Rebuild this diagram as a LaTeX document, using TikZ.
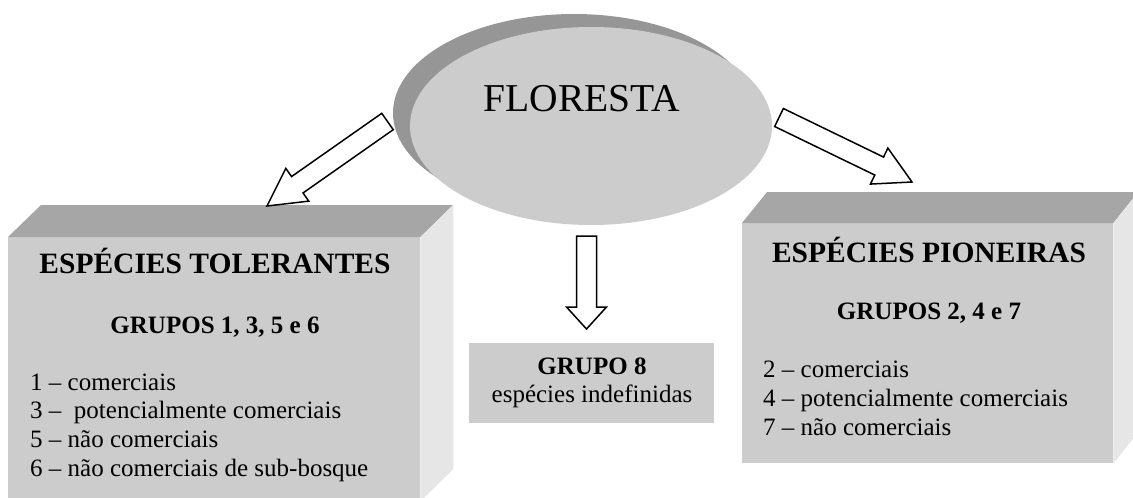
\documentclass[tikz,border=0pt]{standalone}
\usepackage{fontspec}
\setmainfont{Liberation Serif}
\usetikzlibrary{calc,shapes.geometric,positioning}
\definecolor{flogray}{RGB}{204,204,204}
\definecolor{shadowgray}{RGB}{150,150,150}
\definecolor{topgray}{RGB}{166,166,166}
\definecolor{sidegray}{RGB}{230,230,230}

\begin{document}
\begin{tikzpicture}[x=1pt,y=-1pt,
            face/.style={fill=flogray, draw=none, inner sep=0pt, anchor=north west},
            blob/.style={ellipse, draw=none, minimum width=362pt, minimum height=198pt},
            title/.style={font=\bfseries\fontsize{29.5}{34}\selectfont, anchor=base, inner sep=0pt},
            grp/.style={font=\bfseries\fontsize{25}{29}\selectfont, anchor=base, inner sep=0pt},
            item/.style={font=\fontsize{25}{29}\selectfont, anchor=base west, inner sep=0pt},
            blockarrow/.style={draw, fill=white, line width=1.5pt, line join=miter,
              to path={let \p1=(\tikztostart), \p2=(\tikztotarget),
                \n1={atan2(\y2-\y1,\x2-\x1)}, \n2={veclen(\x2-\x1,\y2-\y1)-#1} in
                ($(\p1)+(\n1+90:10pt)$) -- ($(\p1)+(\n1:\n2)+(\n1+90:10pt)$)
                -- ($(\p1)+(\n1:\n2)+(\n1+90:20pt)$) -- (\p2)
                -- ($(\p1)+(\n1:\n2)+(\n1-90:20pt)$) -- ($(\p1)+(\n1:\n2)+(\n1-90:10pt)$)
                -- ($(\p1)+(\n1-90:10pt)$) -- cycle}},
            blockarrow/.default=37
  ]
  \useasboundingbox (0,0) rectangle (1133,498);

  \node[blob, fill=shadowgray] (floshadow) at (574,113) {};
  \node[blob, fill=flogray] (floresta) at (591,126) {};
  \node[font=\fontsize{39.5}{45}\selectfont, anchor=base, inner sep=0pt] (flotitle) at (582,111) {FLORESTA};

  \node[face, minimum width=412pt, minimum height=264pt] (tol) at (8,237) {};
  \fill[topgray] (tol.north west) -- ++(33,-32) -- ++(412,0) -- (tol.north east) -- cycle;
  \fill[sidegray] (tol.north east) -- ++(33,-32) -- ++(0,264) -- (tol.south east) -- cycle;

  \node[face, minimum width=371pt, minimum height=240pt] (pio) at (742,223) {};
  \fill[topgray] (pio.north west) -- ++(25,-31) -- ++(371,0) -- (pio.north east) -- cycle;
  \fill[sidegray] (pio.north east) -- ++(25,-31) -- ++(0,240) -- (pio.south east) -- cycle;

  \node[face, minimum width=245pt, minimum height=80pt] (gr8) at (469,343) {};

  \node[title] (toltitle) at (215,273) {ESPÉCIES TOLERANTES};
  \node[grp] (tolgrp) at (215,333) {GRUPOS 1, 3, 5 e 6};
  \node[item] (tol1) at (30,390) {1 – comerciais};
  \node[item] (tol3) at (30,418.7) {3 –\ \ potencialmente comerciais};
  \node[item] (tol5) at (30,447.4) {5 – não comerciais};
  \node[item] (tol6) at (30,476) {6 – não comerciais de sub-bosque};

  \node[title] (piotitle) at (929,262) {ESPÉCIES PIONEIRAS};
  \node[grp] (piogrp) at (929,319) {GRUPOS 2, 4 e 7};
  \node[item] (pio2) at (763,377) {2 – comerciais};
  \node[item] (pio4) at (763,406) {4 – potencialmente comerciais};
  \node[item] (pio7) at (763,435) {7 – não comerciais};

  \node[grp] (gr8title) at (592,374) {GRUPO 8};
  \node[item, anchor=base] (gr8text) at (592,402) {espécies indefinidas};

  \coordinate (tailL) at (387.5,121.5);
  \coordinate (tipL) at (267,206);
  \coordinate (tailR) at (779,117.5);
  \coordinate (tipR) at (912,182);
  \coordinate (tailD) at (586.5,236);
  \coordinate (tipD) at (586.5,329);

  \draw[blockarrow] (tailL) to (tipL);
  \draw[blockarrow=36.5] (tailR) to (tipR);
  \draw[blockarrow=22] (tailD) to (tipD);

\end{tikzpicture}
\end{document}
